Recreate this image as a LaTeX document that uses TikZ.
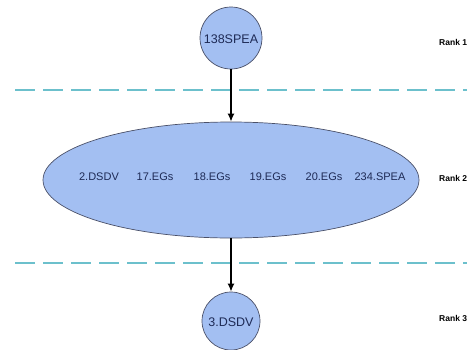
\documentclass[tikz,border=0pt]{standalone}
\usepackage{fontspec}
\setmainfont{Liberation Sans}
\usetikzlibrary{arrows.meta,shapes.geometric}
\definecolor{nodefill}{HTML}{A3BFF2}
\definecolor{nodeedge}{HTML}{4A5068}
\definecolor{nodetext}{HTML}{1E2A55}
\definecolor{rankline}{HTML}{6CC0CC}
\tikzset{
  x=1pt, y=-1pt,
  rankcircle/.style={circle, draw=nodeedge, fill=nodefill, line width=0.7pt, inner sep=0pt, minimum size=#1},
  rankellipse/.style={ellipse, draw=nodeedge, fill=nodefill, line width=0.7pt, inner sep=0pt, minimum width=376pt, minimum height=116pt},
  bigtext/.style={text=nodetext, font=\fontsize{12.5}{14}\selectfont, inner sep=0pt},
  smalltext/.style={text=nodetext, font=\fontsize{11}{13}\selectfont, inner sep=0pt},
  ranklabel/.style={anchor=west, font=\bfseries\fontsize{8.5}{10}\selectfont, inner sep=0pt},
  divider/.style={draw=rankline, line width=1.1pt, dash pattern=on 20pt off 8pt},
  flow/.style={draw=black, line width=1.5pt, -{Latex[length=8pt,width=7pt]}}
}
\begin{document}
\begin{tikzpicture}
\useasboundingbox (0,0) rectangle (467,349);
\fill[white] (0,0) rectangle (467,349);
% dividers
\coordinate (d1a) at (15,90);
\coordinate (d1b) at (467,90);
\coordinate (d2a) at (15,263);
\coordinate (d2b) at (467,263);
\draw[divider] (d1a) -- (d1b);
\draw[divider] (d2a) -- (d2b);
% nodes
\node[rankcircle=62pt] (c1) at (231,38) {};
\node[bigtext] (t1) at (231,39) {138SPEA};
\node[rankellipse] (e) at (231,180) {};
\node[smalltext] (a1) at (99,177) {2.DSDV};
\node[smalltext] (a2) at (155,177) {17.EGs};
\node[smalltext] (a3) at (212,177) {18.EGs};
\node[smalltext] (a4) at (268,177) {19.EGs};
\node[smalltext] (a5) at (324,177) {20.EGs};
\node[smalltext] (a6) at (380,177) {234.SPEA};
\node[rankcircle=58pt] (c3) at (231,321) {};
\node[bigtext] (t3) at (231,322) {3.DSDV};
% rank labels
\node[ranklabel] (r1) at (439,42) {Rank 1};
\node[ranklabel] (r2) at (439,178) {Rank 2};
\node[ranklabel] (r3) at (439,318) {Rank 3};
% connectors
\draw[flow] (c1) -- (e);
\draw[flow] (e) -- (c3);
\end{tikzpicture}
\end{document}
